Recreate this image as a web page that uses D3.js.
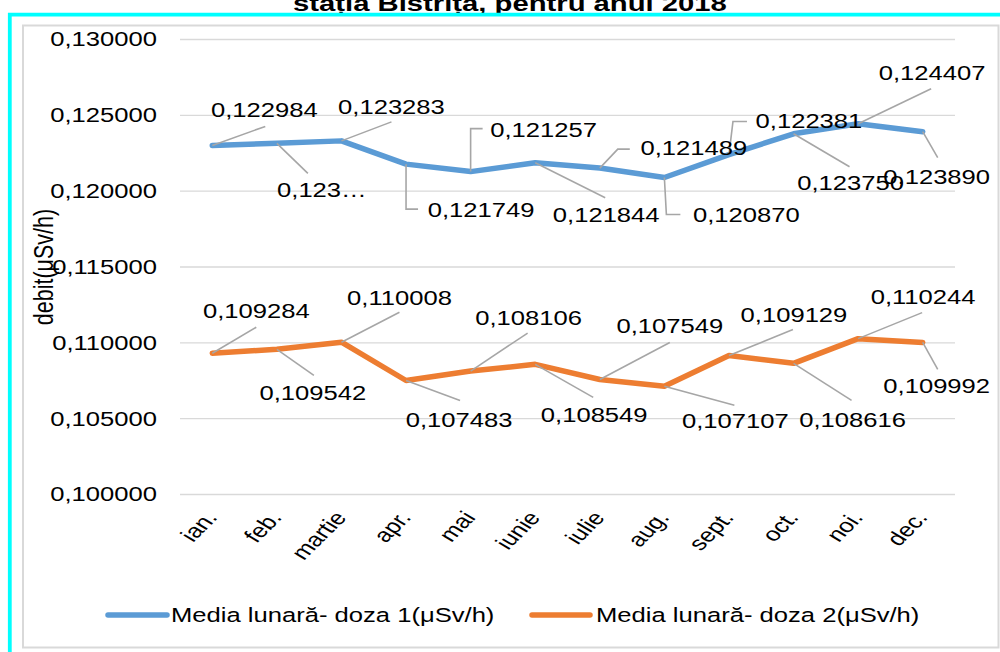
<!DOCTYPE html>
<html>
<head>
<meta charset="utf-8">
<script src="https://cdn.jsdelivr.net/npm/d3@7"></script>
<style>
  html, body { margin: 0; padding: 0; background: #fff; }
  svg { display: block; }
  text { font-family: "Liberation Sans", Arial, sans-serif; }
</style>
</head>
<body>
<div id="chart"></div>
<script>
// ---------------- data ----------------
const titleText = "stația Bistrița, pentru anul 2018";
const yAxisTitle = "debit(μSv/h)";
const months = ["ian.", "feb.", "martie", "apr.", "mai", "iunie", "iulie", "aug.", "sept.", "oct.", "noi.", "dec."];
const seriesNames = ["Media lunară- doza 1(μSv/h)", "Media lunară- doza 2(μSv/h)"];
const doza1 = [0.122984, 0.123120, 0.123283, 0.121749, 0.121257, 0.121844, 0.121489, 0.120870, 0.122381, 0.123750, 0.124407, 0.123890];
const doza2 = [0.109284, 0.109542, 0.110008, 0.107483, 0.108106, 0.108549, 0.107549, 0.107107, 0.109129, 0.108616, 0.110244, 0.109992];
const yTicks = [0.100, 0.105, 0.110, 0.115, 0.120, 0.125, 0.130];
const doza1Truncated = ["feb."];   // labels shown truncated ("0,123…") in the original
const doza2Truncated = [];

// ---------------- layout (pixel offsets of data labels and leader lines) ----------------
const labels1 = [
  {dx: 52, dy: -35, leader: [[53, -19]]},
  {dx: 45, dy: 47, leader: [[31, 30]]},
  {dx: 50, dy: -34, leader: [[50, -19]]},
  {dx: 75, dy: 46, leader: [[0, 45], [12, 45]]},
  {dx: 73, dy: -41, leader: [[0, -43], [12, -43]]},
  {dx: 71, dy: 52, leader: [[70, 35]]},
  {dx: 94, dy: -20, leader: [[18, -19], [30, -19]]},
  {dx: 82, dy: 38, leader: [[2, 37], [16, 37]]},
  {dx: 80, dy: -33, leader: [[4, -33], [18, -33]]},
  {dx: 57, dy: 49, leader: [[56, 33]]},
  {dx: 74, dy: -51, leader: [[73, -35]]},
  {dx: 14, dy: 45, leader: [[15, 26]]}
];
const labels2 = [
  {dx: 44, dy: -42, leader: [[44, -26]]},
  {dx: 36, dy: 44, leader: [[37, 26]]},
  {dx: 58, dy: -44, leader: [[58, -30]]},
  {dx: 53, dy: 40, leader: [[54, 20]]},
  {dx: 58, dy: -53, leader: [[57, -38]]},
  {dx: 59, dy: 51, leader: [[58, 33]]},
  {dx: 70, dy: -53, leader: [[70, -37]]},
  {dx: 71, dy: 35, leader: [[70, 19]]},
  {dx: 65, dy: -40, leader: [[64, -26]]},
  {dx: 59, dy: 57, leader: [[58, 37]]},
  {dx: 65, dy: -42, leader: [[64, -26]]},
  {dx: 14, dy: 44, leader: [[15, 27]]}
];

// ---------------- drawing ----------------
const S = 1.3;                 // horizontal stretch of the original picture
const WIDTH = 1000, HEIGHT = 652;
const W = WIDTH / S;
const X = v => v / S;          // real px -> inner x units
const FS = 19.7;

const svg = d3.select("#chart").append("svg")
  .attr("width", WIDTH).attr("height", HEIGHT)
  .attr("viewBox", `0 0 ${W} ${HEIGHT}`)
  .attr("preserveAspectRatio", "none");

svg.append("rect").attr("x", 0).attr("y", 0).attr("width", W).attr("height", HEIGHT).attr("fill", "#fff");

// title (cut off at the top in the original)
svg.append("text")
  .attr("x", X(510)).attr("y", 10.5)
  .attr("text-anchor", "middle")
  .attr("font-size", 22.5).attr("font-weight", "bold").attr("fill", "#000")
  .text(titleText);

// cyan frame
svg.append("rect")
  .attr("x", X(9.8)).attr("y", 14.7).attr("width", X(1200)).attr("height", 800)
  .attr("fill", "none").attr("stroke", "#00ffff").attr("stroke-width", 3.8)
  .attr("vector-effect", "non-scaling-stroke");

// chart area border
svg.append("rect")
  .attr("x", X(23)).attr("y", 25.5).attr("width", X(998.5 - 23)).attr("height", 647.5 - 25.5)
  .attr("fill", "#fff").attr("stroke", "#d9d9d9").attr("stroke-width", 2)
  .attr("vector-effect", "non-scaling-stroke");

const x = d3.scalePoint().domain(months).range([X(180), X(955)]).padding(0.5);
const y = d3.scaleLinear().domain([0.100, 0.130]).range([494, 39]);
const fmt = v => d3.format(".6f")(v).replace(".", ",");

// gridlines + y tick labels
const yAxis = d3.axisLeft(y).tickValues(yTicks).tickSize(-(X(955) - X(180))).tickPadding(0)
  .tickFormat(fmt);
const gy = svg.append("g").attr("transform", `translate(${X(180)},0)`).call(yAxis);
gy.select(".domain").remove();
gy.selectAll(".tick line").attr("stroke", "#d9d9d9").attr("stroke-width", 1.4)
  .attr("vector-effect", "non-scaling-stroke");
gy.selectAll(".tick text").attr("x", X(157) - X(180)).attr("dy", "0.35em")
  .attr("font-size", FS).attr("fill", "#000")
  .attr("font-family", "Liberation Sans, Arial, sans-serif");

// y axis title
svg.append("text")
  .attr("transform", `translate(${X(53)},267) rotate(-90)`)
  .attr("text-anchor", "middle")
  .attr("font-size", 21.5).attr("fill", "#000")
  .text(yAxisTitle);

// x labels
svg.append("g").selectAll("text").data(months).join("text")
  .attr("transform", d => `translate(${x(d) + X(6)},518) rotate(-52)`)
  .attr("text-anchor", "end")
  .attr("font-size", FS).attr("fill", "#000")
  .text(d => d);

const series = [
  {name: seriesNames[0], values: doza1, color: "#5b9bd5", labels: labels1, trunc: doza1Truncated},
  {name: seriesNames[1], values: doza2, color: "#ed7d31", labels: labels2, trunc: doza2Truncated}
];

const line = d3.line().x((d, i) => x(months[i])).y(d => y(d));

series.forEach(s => {
  svg.append("path").datum(s.values)
    .attr("d", line)
    .attr("fill", "none").attr("stroke", s.color).attr("stroke-width", 5.5)
    .attr("stroke-linejoin", "round").attr("stroke-linecap", "round")
    .attr("vector-effect", "non-scaling-stroke");
});

series.forEach(s => {
  const g = svg.append("g");
  s.values.forEach((v, i) => {
    const px = x(months[i]), py = y(v);
    const L = s.labels[i];
    const pts = [[px, py]].concat(L.leader.map(([dx, dy]) => [px + X(dx), py + dy]));
    g.append("path")
      .attr("d", d3.line()(pts))
      .attr("fill", "none").attr("stroke", "#a6a6a6").attr("stroke-width", 1.6)
      .attr("vector-effect", "non-scaling-stroke");
  });
  s.values.forEach((v, i) => {
    const px = x(months[i]), py = y(v);
    const L = s.labels[i];
    const t = s.trunc.includes(months[i]) ? fmt(v).slice(0, 5) + "…" : fmt(v);
    g.append("text")
      .attr("x", px + X(L.dx)).attr("y", py + L.dy).attr("dy", "0.35em")
      .attr("text-anchor", "middle")
      .attr("font-size", FS).attr("fill", "#000")
      .text(t);
  });
});

// legend
const legendItems = [
  {name: seriesNames[0], color: "#5b9bd5", x0: 108, x1: 167, tx: 171},
  {name: seriesNames[1], color: "#ed7d31", x0: 532, x1: 590, tx: 596}
];
const lg = svg.append("g");
legendItems.forEach(it => {
  lg.append("line")
    .attr("x1", X(it.x0)).attr("x2", X(it.x1)).attr("y1", 615).attr("y2", 615)
    .attr("stroke", it.color).attr("stroke-width", 5.5).attr("stroke-linecap", "round")
    .attr("vector-effect", "non-scaling-stroke");
  lg.append("text")
    .attr("x", X(it.tx)).attr("y", 615).attr("dy", "0.35em")
    .attr("font-size", FS).attr("fill", "#000")
    .text(it.name);
});
</script>
</body>
</html>
